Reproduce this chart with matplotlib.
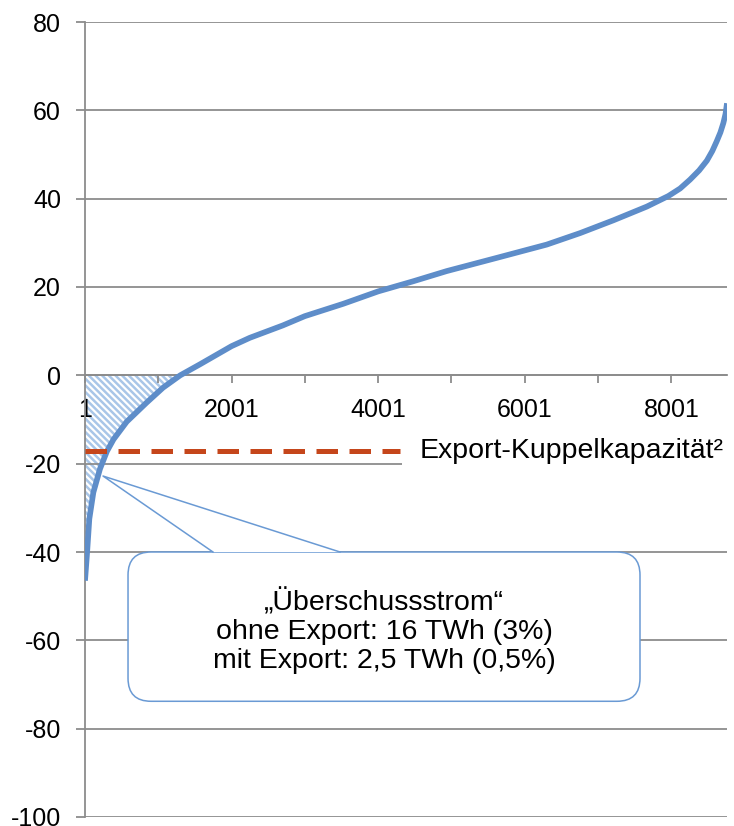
import matplotlib
matplotlib.use("Agg")
import matplotlib.pyplot as plt
import numpy as np
from matplotlib.patches import FancyBboxPatch, Polygon, Rectangle

plt.rcParams['font.family'] = ['Liberation Sans', 'DejaVu Sans']
plt.rcParams['axes.unicode_minus'] = False
plt.rcParams['hatch.linewidth'] = 1.8

# Residuallast-Dauerlinie (Stunden sortiert)
hours = [1, 30, 60, 115, 205, 300, 390, 570, 840, 1065, 1300, 1570, 2000, 2250,
         2700, 3000, 3525, 4000, 4480, 4935, 5620, 6300, 6755, 7210, 7665, 7960,
         8120, 8255, 8380, 8485, 8560, 8620, 8670, 8710, 8740, 8760]
values = [-46.5, -40, -32.5, -26.5, -21.2, -17.2, -14.5, -10.5, -6.2, -2.8, 0, 2.5,
          6.6, 8.5, 11.3, 13.4, 16.2, 19.0, 21.3, 23.6, 26.6, 29.6, 32.2, 35.1,
          38.2, 40.6, 42.3, 44.3, 46.4, 48.6, 50.8, 53.0, 55.0, 57.1, 59.2, 61.6]

export_cap = -17.2
export_end = 4300

y_ticks = [-100, -80, -60, -40, -20, 0, 20, 40, 60, 80]
x_major = [1, 2001, 4001, 6001, 8001]
x_minor = [1001, 3001, 5001, 7001]

callout_lines = ["\u201eÜberschussstrom\u201c",
                 "ohne Export: 16 TWh (3%)",
                 "mit Export: 2,5 TWh (0,5%)"]
export_label = "Export-Kuppelkapazität²"

curve_color = "#5E8DC9"
dash_color = "#C5461B"
grid_color = "#8C8C8C"
hatch_color = "#A9C6E8"
box_color = "#6A9AD4"

fig = plt.figure(figsize=(7.34, 8.26), dpi=100)
ax = fig.add_axes([85 / 734, 1 - 817 / 826, (727 - 85) / 734, (817 - 22) / 826])

ax.set_xlim(1, 8760)
ax.set_ylim(-100, 80)

# achsen & gitter
for s in ["top", "right"]:
    ax.spines[s].set_visible(False)
ax.spines["left"].set_color(grid_color)
ax.spines["left"].set_linewidth(1.3)
ax.spines["bottom"].set_position(("data", 0))
ax.spines["bottom"].set_color(grid_color)
ax.spines["bottom"].set_linewidth(1.3)
ax.yaxis.grid(True, color=grid_color, linewidth=1.3)
ax.set_axisbelow(True)

ax.set_yticks(y_ticks)
ax.set_yticklabels([str(t) for t in y_ticks], fontsize=18)
ax.tick_params(axis="y", length=6.5, width=1.3, color=grid_color, pad=10.8)

ax.set_xticks(x_major)
ax.set_xticklabels([str(t) for t in x_major], fontsize=18)
ax.set_xticks(x_minor, minor=True)
ax.tick_params(axis="x", which="both", length=6, width=1.3, color=grid_color, pad=10)

# schraffierte Fläche (unter Achse / Beschriftung)
h = np.array(hours)
v = np.array(values)
ax.fill_between(h, v, 0, where=v <= 0, interpolate=True, facecolor="none",
                edgecolor=hatch_color, hatch="\\" * 5, linewidth=0, zorder=0.3)

ax.plot(hours, values, color=curve_color, linewidth=4.1, zorder=3,
        solid_capstyle="butt")

ax.plot([1, export_end], [export_cap, export_cap], color=dash_color, linewidth=3.6,
        dashes=(4.3, 2.3), zorder=3)

# Label-Hintergrund deckt die -20-Linie rechts ab
ax.add_patch(Rectangle((4330, -21.5), 5000, 3.0, facecolor="white",
                       edgecolor="none", zorder=2, clip_on=False))
ax.text(4560, export_cap, export_label, fontsize=20.5, ha="left", va="center",
        zorder=4, clip_on=False)

# Sprechblase
def to_in(x, y):
    return fig.dpi_scale_trans.inverted().transform(ax.transData.transform((x, y)))

x0, y0 = to_in(588, -73.8)
x1, y1 = to_in(7573, -40.0)
box = FancyBboxPatch((x0, y0), x1 - x0, y1 - y0,
                     boxstyle="round,pad=0,rounding_size=0.23",
                     transform=fig.dpi_scale_trans, facecolor="white",
                     edgecolor=box_color, linewidth=1.1, zorder=5, clip_on=False)
ax.add_artist(box)

tip = (247, -22.8)
base1 = (1747, -40.0)
base2 = (3480, -40.0)
ax.add_patch(Polygon([base1, tip, base2], closed=True, facecolor="white",
                     edgecolor="none", zorder=5))
ax.plot([base1[0], tip[0], base2[0]], [base1[1], tip[1], base2[1]],
        color=box_color, linewidth=1.1, zorder=6)

ax.text(4080, -58.0, "\n".join(callout_lines), fontsize=20.5, ha="center",
        va="center", linespacing=1.15, zorder=7)

plt.savefig("out.png", dpi=100)
